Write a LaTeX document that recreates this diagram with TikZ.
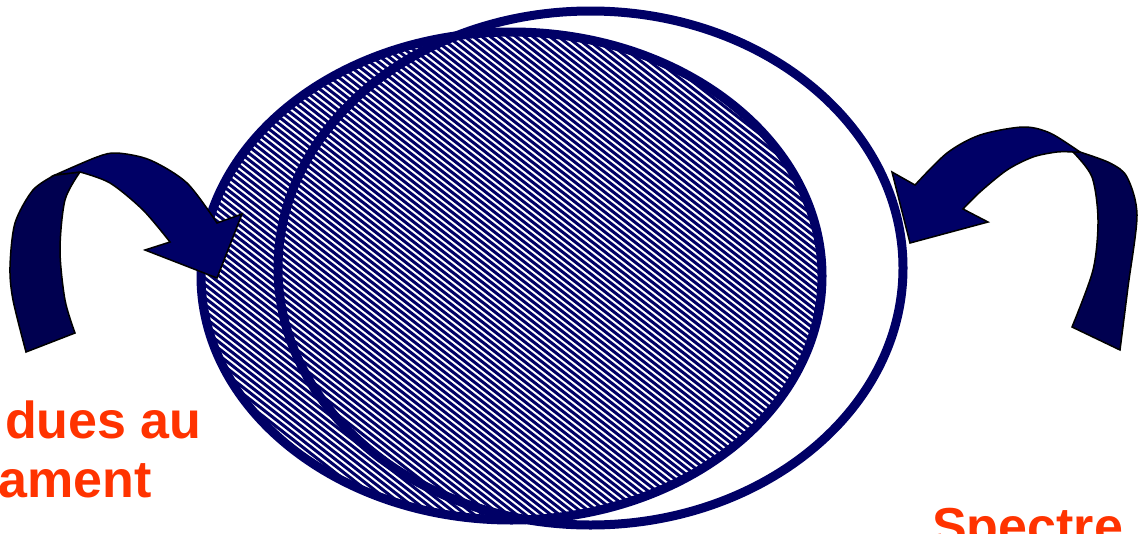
\documentclass[tikz,border=0pt]{standalone}
\usepackage{fontspec}
\setmainfont{Liberation Sans}
\definecolor{navy}{RGB}{0,0,102}
\definecolor{navydark}{RGB}{0,0,80}
\definecolor{lbl}{RGB}{255,51,0}
\begin{document}
\begin{tikzpicture}[x=1pt,y=-1pt,
  ring/.style={draw=navy,line width=9pt},
  hatchline/.style={draw=navy,line width=3pt},
  bandfront/.style={fill=navy,draw=black,line width=1.5pt,line join=miter},
  bandback/.style={fill=navydark,draw=black,line width=1.5pt,line join=miter},
  lbltext/.style={text=lbl,font=\fontsize{52}{59}\selectfont\bfseries,inner sep=0pt,anchor=base west}]
\useasboundingbox (0,0) rectangle (1138,533);
% hatched ellipse
\begin{scope}
  \clip (511.5,276) ellipse [x radius=310.5pt, y radius=244pt];
  \foreach \c in {-500,-491.5,...,1500}
    \draw[hatchline] (\c-700,-546) -- (\c+700,546);
\end{scope}
\draw[ring] (511.5,276) ellipse [x radius=310.5pt, y radius=244pt];
% outline ellipse
\draw[ring] (590.5,268) ellipse [x radius=312.5pt, y radius=257pt];
% left arrow
\filldraw[bandback] plot[smooth] coordinates {(26,352) (13,300) (10,267) (15,223) (33,190) (55,175)}
  -- (80,172) -- plot[smooth] coordinates {(80,172) (65,200) (60,250) (65,300) (75,333)} -- cycle;
\filldraw[bandfront] plot[smooth] coordinates {(55,175) (97,157) (117,153) (150,160) (187,183) (217,223)}
  -- (242,214) -- (217,278) -- (145,250) -- (170,242)
  -- plot[smooth] coordinates {(170,242) (143,210) (110,183) (80,172)} -- cycle;
% right arrow
\filldraw[bandback] plot[smooth] coordinates {(1120,350) (1128,287) (1137,215) (1127,177) (1110,163) (1080,152)}
  -- (1073,152) -- plot[smooth] coordinates {(1073,152) (1092,177) (1098,220) (1093,270) (1072,327)} -- cycle;
\filldraw[bandfront] plot[smooth] coordinates {(1080,152) (1050,133) (1023,127) (980,135) (947,153) (915,185)}
  -- (892,172) -- (910,243) -- (988,222) -- (963,209)
  -- plot[smooth] coordinates {(963,209) (980,192) (1007,170) (1033,157) (1057,152) (1073,152)} -- cycle;
% labels
\node[lbltext] (l1) at (5,438) {dues au};
\node[lbltext] (l2) at (-2,497) {ament};
\node[lbltext] (l3) at (932,544) {Spectre};
\end{tikzpicture}
\end{document}
